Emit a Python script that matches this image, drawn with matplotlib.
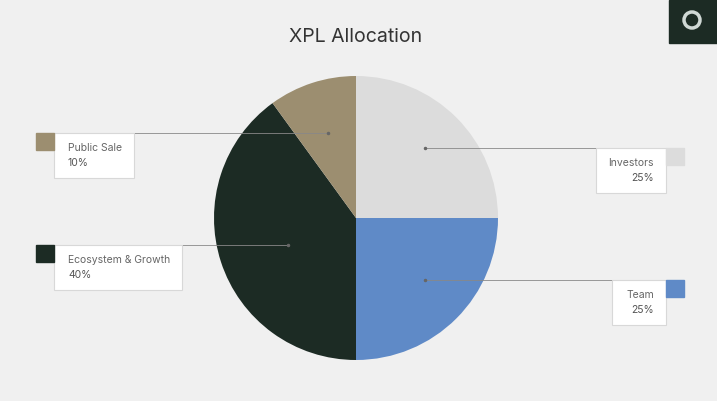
import matplotlib
matplotlib.use("Agg")
import matplotlib.pyplot as plt
from matplotlib.patches import Rectangle, Circle

labels = ["Investors", "Team", "Ecosystem & Growth", "Public Sale"]
values = [25, 25, 40, 10]
colors = ["#dcdcdc", "#5f8ac7", "#1c2b24", "#9c8e70"]

W, H = 717, 401
fig = plt.figure(figsize=(W/100, H/100), dpi=100, facecolor="#f0f0f0")
plt.rcParams['font.family'] = ['Inter', 'DejaVu Sans']

ax = fig.add_axes([214/W, (H-360)/H, 284/W, 284/H])
ax.pie(values, colors=colors, startangle=90, counterclock=False, radius=1)
ax.set_xlim(-1, 1); ax.set_ylim(-1, 1); ax.set_aspect('auto')
ax.axis('off')

ov = fig.add_axes([0, 0, 1, 1], facecolor="none")
ov.set_xlim(0, W); ov.set_ylim(H, 0); ov.axis('off')

ov.text(356, 37, "XPL Allocation", ha='center', va='center', fontsize=14, color="#333333")

# logo
ov.add_patch(Rectangle((669, 0), 48, 43, color="#1c2b24"))
ov.add_patch(Circle((692, 20), 8, fill=False, ec="#cfd8d4", lw=2.5))

# (label, pct, box x0, box x1, y0, line end x, swatch side, color)
specs = [
    ("Public Sale", "10%", 54, 134, 133, 328, 'left', colors[3]),
    ("Ecosystem & Growth", "40%", 54, 182, 245, 288, 'left', colors[2]),
    ("Investors", "25%", 596, 666, 148, 425, 'right', colors[0]),
    ("Team", "25%", 612, 666, 280, 425, 'right', colors[1]),
]
for name, pct, x0, x1, y0, lx, side, c in specs:
    ov.add_patch(Rectangle((x0, y0), x1-x0, 45, fc="white", ec="#d8d8d8", lw=0.8, zorder=3))
    if side == 'left':
        ov.add_patch(Rectangle((36, y0), 18, 17, color=c, zorder=3))
        ov.plot([x1, lx], [y0, y0], color="#888888", lw=0.6, zorder=2)
        ov.plot([lx], [y0], 'o', ms=1.5, color="#666666", zorder=4)
        ov.text(x0+14, y0+15, name, fontsize=7.5, color="#666666", va='center', zorder=4)
        ov.text(x0+14, y0+30, pct, fontsize=7.5, color="#555555", va='center', zorder=4)
    else:
        ov.add_patch(Rectangle((666, y0), 18, 17, color=c, zorder=3))
        ov.plot([lx, x0], [y0, y0], color="#888888", lw=0.6, zorder=2)
        ov.plot([lx], [y0], 'o', ms=1.5, color="#666666", zorder=4)
        ov.text(x1-12, y0+15, name, fontsize=7.5, color="#666666", va='center', ha='right', zorder=4)
        ov.text(x1-12, y0+30, pct, fontsize=7.5, color="#555555", va='center', ha='right', zorder=4)

fig.savefig("out.png", dpi=100, facecolor=fig.get_facecolor())
